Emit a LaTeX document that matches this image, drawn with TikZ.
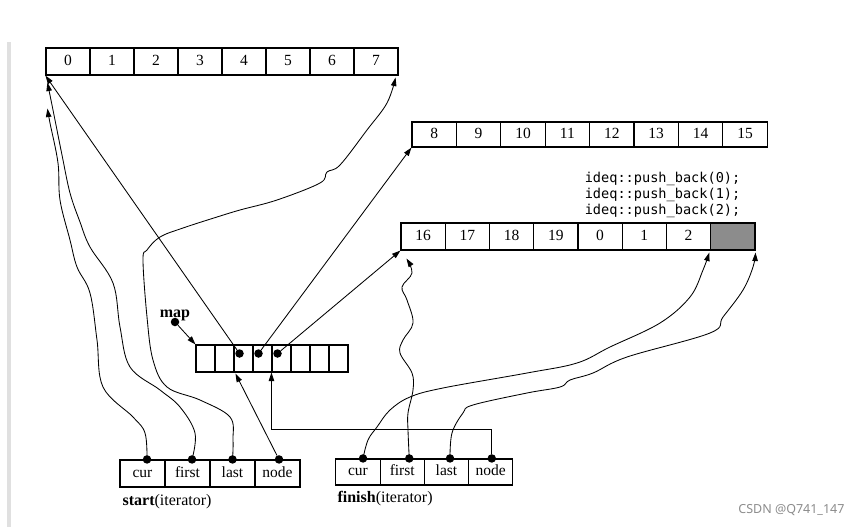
\documentclass[tikz,border=0pt]{standalone}
\usepackage{fontspec}
\setmainfont{Liberation Serif}
\setmonofont{DejaVu Sans Mono}
\newfontfamily\wmfont{Noto Sans}
\usetikzlibrary{calc,positioning,arrows.meta}

\begin{document}
\begin{tikzpicture}[x=1pt,y=-1pt,
  font=\fontsize{15.5}{17}\selectfont,
  cell/.style={draw,line width=1.1pt,inner sep=0pt,minimum height=27pt,text height=10pt,text depth=3pt},
  dot/.style={circle,fill,inner sep=0pt,minimum size=8.5pt},
  arr/.style={-{Triangle[length=8.5pt,width=5.5pt]},line width=0.85pt},
  wavy/.style={arr,smooth,tension=0.6}]
	\useasboundingbox (0,0) rectangle (861,527);
	\fill[black!12] (7,42) rectangle (11,527);

	% buffers
	\foreach \i in {0,...,7}
		\node[cell,minimum width=44pt] (a\i) at (68+44*\i,61.5) {\i};
	\foreach \n [count=\i from 0] in {8,...,15}
		\node[cell,minimum width=44.4pt,minimum height=25pt] (b\i) at (434.2+44.4*\i,134.5) {\n};
	\foreach \n [count=\i from 0] in {16,17,18,19,0,1,2}
		\node[cell,minimum width=44.25pt] (c\i) at (423.1+44.25*\i,236.5) {\n};
	\node[cell,minimum width=44.25pt,fill=black!45] (c7) at (423.1+44.25*7,236.5) {};
	\node[anchor=south east,align=left,inner sep=0pt,font=\ttfamily\fontsize{13.6}{16}\selectfont] (code)
		at ($(c7.north east)+(-15,-5)$) {ideq::push\_back(0);\\ideq::push\_back(1);\\ideq::push\_back(2);};

	% map
	\foreach \i in {0,...,7}
		\node[cell,minimum width=19pt] (m\i) at (205.5+19*\i,358.5) {};
	\foreach \i in {2,3,4}
		\node[dot] (p\i) at ($(m\i)+(-4,-5)$) {};
	\node[dot] (mapdot) at (175,322) {};
	\node[anchor=base,font=\bfseries\fontsize{16}{18}\selectfont] (maplabel) at ($(mapdot)+(0,-4.5)$) {map};

	% iterators
	\foreach \t [count=\i from 0] in {cur,first,last,node}
		\node[cell,minimum width=45pt] (s\i) at (142.5+45*\i,473.5) {\t};
	\foreach \t [count=\i from 0] in {cur,first,last,node}
		\node[cell,minimum width=44.25pt,minimum height=26pt] (f\i) at (358+44.25*\i,472) {\t};
	\foreach \i/\d in {0/4.5,1/4.5,2/0,3/1.5}
		\node[dot] (sd\i) at ($(s\i.north)+(\d,0)$) {};
	\foreach \i/\d in {0/5,1/7,2/3.5,3/1}
		\node[dot] (fd\i) at ($(f\i.north)+(\d,0)$) {};
	\node[below right=7pt and 3pt of s0.south west,inner sep=0pt,font=\fontsize{16}{18}\selectfont] (slabel) {\textbf{start}(iterator)};
	\node[below right=5pt and 2pt of f0.south west,inner sep=0pt,font=\fontsize{16}{18}\selectfont] (flabel) {\textbf{finish}(iterator)};

	% arrow ends
	\coordinate (a0cur) at ($(a0.south west)+(2,33)$);
	\coordinate (a0first) at ($(a0.south west)+(2,7)$);
	\coordinate (a7last) at ($(a7.south east)+(-3,2)$);
	\coordinate (c0first) at ($(c0.south west)+(6,8)$);
	\coordinate (c6cur) at ($(c6.south east)+(-2,2)$);
	\coordinate (c7last) at ($(c7.south east)+(0,2)$);

	% map to buffers
	\draw[arr] (mapdot) -- (m0.north west);
	\draw[arr] (p2) -- (a0.south west);
	\draw[arr] (p3) -- (b0.south west);
	\draw[arr] (p4) -- (c0.south west);

	% start
	\draw[wavy] plot coordinates {(sd0) (145,433) (133,417) (103,387) (97,340) (90,293) (77,267) (70,240) (60,200) (58,163) (50,123) (a0cur)};
	\draw[wavy] plot coordinates {(sd1) (195,433) (180,407) (160,390) (130,367) (120,327) (113,283) (90,247) (80,222) (70,193) (62,155) (54,115) (a0first)};
	\draw[wavy] plot coordinates {(sd2) (233,440) (230,417) (200,400) (167,387) (153,360) (147,317) (143,260) (147,250) (160,237) (183,228) (217,217) (240,210) (277,200) (320,183) (327,172) (340,165) (367,130) (387,103) (a7last)};
	\draw[arr] (sd3) -- ($(m2.south west)+(2,1)$);

	% finish
	\draw[wavy] plot coordinates {(fd0) (368,440) (377,427) (390,410) (410,397) (443,388) (527,373) (577,363) (610,347) (660,323) (690,297) (703,270) (c6cur)};
	\draw[wavy] plot coordinates {(fd1) (408,430) (408,413) (413,390) (412,373) (400,353) (403,340) (413,323) (407,300) (402,287) (412,273) (c0first)};
	\draw[wavy] plot coordinates {(fd2) (452,433) (463,413) (473,405) (527,393) (560,387) (570,380) (593,373) (627,357) (710,333) (723,317) (743,290) (753,267) (c7last)};
	\draw[arr] (fd3) -- ++(0,-29) -| (m4.south west);

	\node[anchor=east,text=black!45,font=\wmfont\fontsize{12.5}{14}\selectfont] (wm) at (848,510) {CSDN @Q741\_147};
\end{tikzpicture}
\end{document}
